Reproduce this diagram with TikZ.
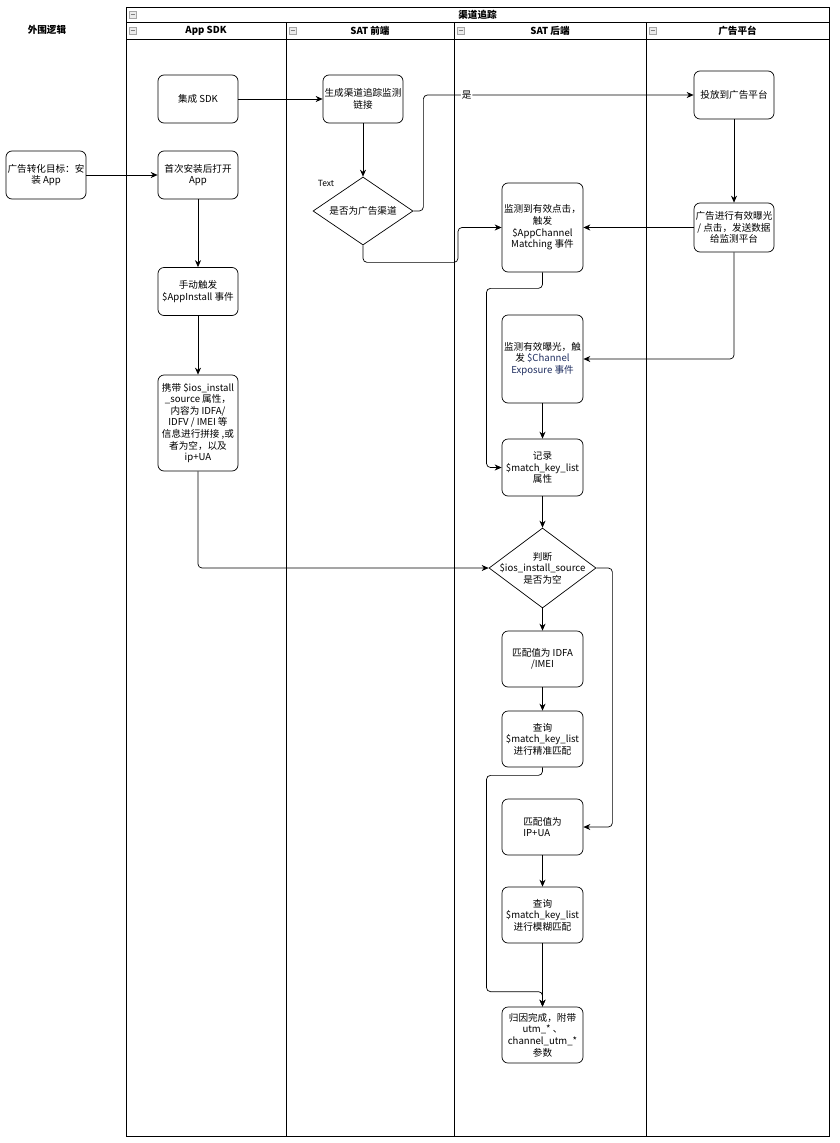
\documentclass[tikz,border=0pt]{standalone}
\usepackage{fontspec}
\setmainfont{Noto Sans CJK SC}
\usetikzlibrary{shapes.geometric,arrows.meta}
\definecolor{navytext}{RGB}{30,45,95}
\begin{document}
\begin{tikzpicture}[x=1pt,y=-1pt, line width=0.7pt,
    every node/.style={font=\fontsize{9.6}{11.6}\selectfont},
    box/.style={draw, rounded corners=6, align=center, minimum width=80, minimum height=48, inner xsep=1},
    dia/.style={draw, diamond, inner sep=0},
    arr/.style={-{Stealth[length=7pt,width=6pt]}, rounded corners=4},
    hd/.style={font=\fontsize{9.6}{11.6}\selectfont\bfseries},
    icon/.style={draw=gray!70, fill=gray!15, line width=0.4pt}]
    \useasboundingbox (0,0) rectangle (839,1143);
    % swimlanes
    \draw[line width=1pt] (126,7) rectangle (829,1136);
    \draw[line width=1pt] (126,22) -- (829,22);
    \draw[line width=1pt] (126,39) -- (829,39);
    \foreach \x in {286,454,646} \draw[line width=1pt] (\x,22) -- (\x,1136);
    \foreach \x/\y in {129/11,129/27,289/27,457/27,649/27} {
        \draw[icon] (\x,\y) rectangle ++(7,7);
        \draw[gray, line width=0.4pt] (\x+1.5,\y+3.5) -- ++(4,0);
    }
    \node[hd] (pool) at (477.5,14.5) {渠道追踪};
    \node[hd] (lanesdk) at (206,31) {App SDK};
    \node[hd] (lanefront) at (370,31) {SAT 前端};
    \node[hd] (laneback) at (550,31) {SAT 后端};
    \node[hd] (lanead) at (737.5,31) {广告平台};
    \node[hd] (outer) at (47,30) {外围逻辑};
    % App SDK
    \node[box] (goal) at (46,175) {广告转化目标：安\\装 App};
    \node[box] (sdk) at (198,99) {集成 SDK};
    \node[box] (open) at (198,175) {首次安装后打开\\App};
    \node[box] (install) at (198,291.5) {手动触发\\\$AppInstall 事件};
    \node[box, minimum height=96] (carry) at (198,423) {携带 \$ios\_install\\\_source 属性，\\内容为 IDFA/\\IDFV / IMEI 等\\信息进行拼接 ,或\\者为空，以及\\ip+UA};
    % SAT front
    \node[box] (link) at (363,99) {生成渠道追踪监测\\链接};
    \node[dia, minimum width=100, minimum height=68] (isad) at (363,211) {};
    \node (isadtext) at (isad) {是否为广告渠道};
    \node[font=\fontsize{8.5}{10}\selectfont] (textlbl) at (326,183) {Text};
    % ad platform
    \node[box] (put) at (734,95) {投放到广告平台};
    \node[box, minimum height=49] (expo) at (734,227.5) {广告进行有效曝光\\/ 点击，发送数据\\给监测平台};
    % SAT back
    \node[box, minimum width=81, minimum height=89] (click) at (542.5,227.5) {监测到有效点击，\\触发\\\$AppChannel\\Matching 事件};
    \node[box, minimum width=81, minimum height=88] (cexpo) at (542.5,359) {监测有效曝光，触\\发 {\color{navytext}\$Channel}\\{\color{navytext}Exposure 事件}};
    \node[box, minimum width=81, minimum height=57] (rec) at (542.5,467.5) {记录\\\$match\_key\_list\\属性};
    \node[dia, minimum width=107, minimum height=80] (judge) at (542.5,568) {};
    \node (judgetext) at (judge) [align=center] {判断\\\$ios\_install\_source\\是否为空};
    \node[box, minimum width=81, minimum height=56] (idfa) at (542.5,659) {匹配值为 IDFA\\/IMEI};
    \node[box, minimum width=81, minimum height=56] (exact) at (542.5,739) {查询\\\$match\_key\_list\\进行精准匹配};
    \node[box, minimum width=81, minimum height=56, align=left] (ipua) at (542.5,827) {匹配值为\\IP+UA};
    \node[box, minimum width=81, minimum height=56] (fuzzy) at (542.5,915) {查询\\\$match\_key\_list\\进行模糊匹配};
    \node[box, minimum width=81, minimum height=56] (done) at (542.5,1035) {归因完成，附带\\utm\_* 、\\channel\_utm\_*\\参数};
    \coordinate (merge) at ([yshift=15pt]done.north);
    % connectors
    \draw[arr] (sdk) -- (link);
    \draw[arr] (goal) -- (open);
    \draw[arr] (open) -- (install);
    \draw[arr] (install) -- (carry);
    \draw[arr] (carry.south) |- (judge.west);
    \draw[arr] (link) -- (isad);
    \draw[arr] (isad.east) -- ++(10,0) |- (put.west) node[pos=0.58, fill=white, inner sep=1pt] {是};
    \draw[arr] (isad.south) |- ++(95,17) |- (click.west);
    \draw[arr] (put) -- (expo);
    \draw[arr] (expo) -- (click);
    \draw[arr] (expo.south) |- (cexpo.east);
    \draw[arr] (click.south) |- ++(-56,16) |- (rec.west);
    \draw[arr] (cexpo) -- (rec);
    \draw[arr] (rec) -- (judge);
    \draw[arr] (judge) -- (idfa);
    \draw[arr] (judge.east) -- ++(16,0) |- (ipua.east);
    \draw[arr] (idfa) -- (exact);
    \draw[arr] (exact.south) |- ++(-56,8) |- (merge) -- (done.north);
    \draw[arr] (ipua) -- (fuzzy);
    \draw[arr] (fuzzy) -- (done);
\end{tikzpicture}
\end{document}
